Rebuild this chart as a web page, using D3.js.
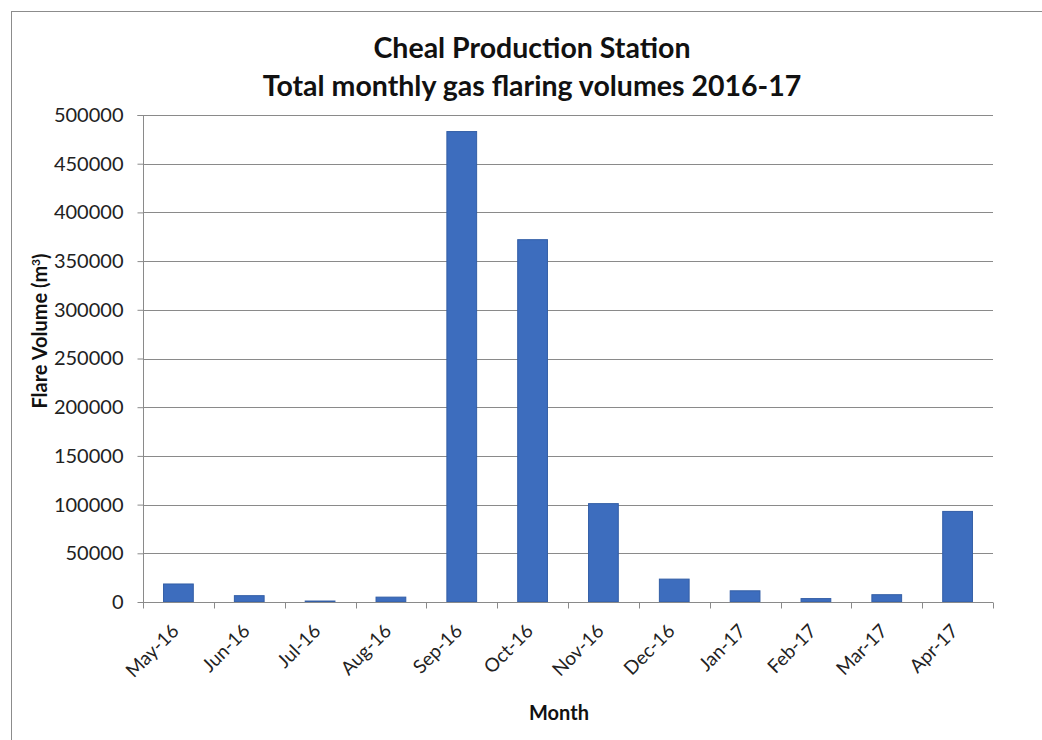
<!DOCTYPE html>
<html><head><meta charset="utf-8">
<script src="https://cdn.jsdelivr.net/npm/d3@7"></script>
<style>body{margin:0;background:#fff;} svg{display:block;}</style>
</head><body>
<svg id="c" width="1042" height="740"></svg>
<script>
const months = ["May-16","Jun-16","Jul-16","Aug-16","Sep-16","Oct-16","Nov-16","Dec-16","Jan-17","Feb-17","Mar-17","Apr-17"];
const flareVolumes = [18500, 6500, 1000, 5000, 483000, 372000, 101000, 23500, 11500, 3500, 7500, 93000];
const yTicks = [0, 50000, 100000, 150000, 200000, 250000, 300000, 350000, 400000, 450000, 500000];
const titleLines = ["Cheal Production Station", "Total monthly gas flaring volumes 2016-17"];
const xTitle = "Month";

const svg = d3.select("#c");
const font = "Lato, 'Open Sans', sans-serif";
const m = {left: 143, right: 993, top: 115, bottom: 602};

// outer frame
svg.append("rect").attr("x", 11.5).attr("y", 11.5).attr("width", 1100).attr("height", 800)
  .attr("fill", "none").attr("stroke", "#8c8c8c").attr("stroke-width", 1);

const x = d3.scaleBand().domain(months).range([m.left, m.right]).paddingInner(0.58).paddingOuter(0.29);
const y = d3.scaleLinear().domain([0, 500000]).range([m.bottom, m.top]);

// gridlines
svg.append("g").selectAll("line").data(yTicks.filter(d => d > 0)).join("line")
  .attr("x1", m.left).attr("x2", m.right)
  .attr("y1", d => Math.round(y(d)) + 0.5).attr("y2", d => Math.round(y(d)) + 0.5)
  .attr("stroke", "#8a8a8a").attr("stroke-width", 1);

// bars
svg.append("g").selectAll("rect").data(months).join("rect")
  .attr("x", d => x(d)).attr("width", x.bandwidth())
  .attr("y", (d, i) => y(flareVolumes[i])).attr("height", (d, i) => y(0) - y(flareVolumes[i]))
  .attr("fill", "#3d6dbe").attr("stroke", "#335ea6").attr("stroke-width", 1);

// y axis
const yAxis = d3.axisLeft(y).tickValues(yTicks).tickSize(6).tickPadding(14).tickFormat(d3.format("d"));
const gy = svg.append("g").attr("transform", `translate(${m.left + 0.5},0)`).call(yAxis);
gy.selectAll("line, path").attr("stroke", "#8a8a8a");
gy.select(".domain").attr("d", `M-6,${m.top}.5H0V${m.bottom}`);
gy.selectAll("text").attr("font-family", font).attr("font-size", 20).attr("fill", "#222");

// x axis with ticks at band boundaries
const gx = svg.append("g").attr("transform", `translate(0,${m.bottom + 0.5})`);
gx.append("line").attr("x1", m.left).attr("x2", m.right).attr("stroke", "#8a8a8a");
const step = x.step();
const bounds = d3.range(months.length + 1).map(i => m.left + i * step);
gx.selectAll("line.t").data(bounds).join("line").attr("class", "t")
  .attr("x1", d => Math.round(d) + 0.5).attr("x2", d => Math.round(d) + 0.5)
  .attr("y1", 0).attr("y2", 6).attr("stroke", "#8a8a8a");
gx.selectAll("text").data(months).join("text")
  .attr("transform", d => `translate(${x(d) + x.bandwidth() / 2 - 3},${25}) rotate(-45)`)
  .attr("text-anchor", "end").attr("dy", "0.35em")
  .attr("font-family", font).attr("font-size", 19).attr("fill", "#222")
  .text(d => d);

// titles
svg.selectAll("text.title").data(titleLines).join("text").attr("class", "title")
  .attr("x", 532).attr("y", (d, i) => 58 + i * 38)
  .attr("text-anchor", "middle").attr("font-family", font).attr("font-weight", "bold")
  .attr("font-size", 28.5).attr("fill", "#111").text(d => d);

// axis titles
svg.append("text").attr("x", 559).attr("y", 720).attr("text-anchor", "middle")
  .attr("font-family", font).attr("font-weight", "bold").attr("font-size", 20).attr("fill", "#111")
  .text(xTitle);

const yl = svg.append("text").attr("transform", "translate(47,331) rotate(-90)")
  .attr("text-anchor", "middle").attr("font-family", font).attr("font-weight", "bold")
  .attr("font-size", 20).attr("fill", "#111");
yl.append("tspan").text("Flare Volume (m");
yl.append("tspan").attr("font-size", 12).attr("dy", "-0.6em").text("3");
yl.append("tspan").attr("dy", "0.4em").text(")");
</script>
</body></html>
